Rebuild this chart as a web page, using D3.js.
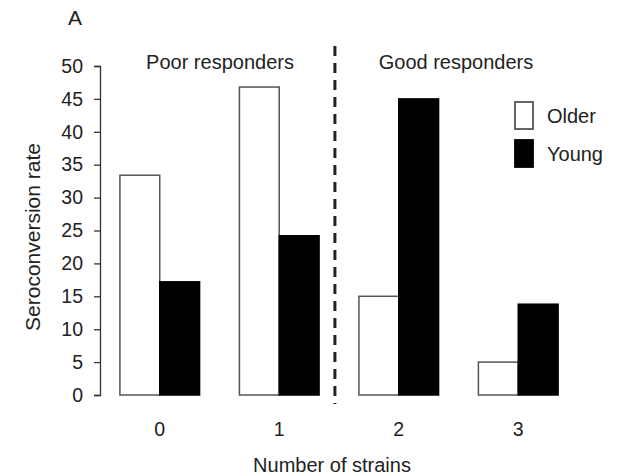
<!DOCTYPE html>
<html>
<head>
<meta charset="utf-8">
<script src="https://cdn.jsdelivr.net/npm/d3@7"></script>
<style>
  body { margin: 0; background: #fff; }
  svg text { font-family: "Liberation Sans", Arial, Helvetica, sans-serif; fill: #222; }
</style>
</head>
<body>
<svg></svg>
<script>
const strains = ['0', '1', '2', '3'];
const groups = ['Older', 'Young'];
const older = [33.4, 46.8, 15.0, 5.0];
const young = [17.2, 24.2, 45.0, 13.8];
const yTicks = [0, 5, 10, 15, 20, 25, 30, 35, 40, 45, 50];

const width = 623, height = 476;
const svg = d3.select('svg')
    .attr('width', width)
    .attr('height', height);

const data = strains.map((s, i) => ({ strain: s, Older: older[i], Young: young[i] }));

const yScale = d3.scaleLinear()
    .domain([0, 50])
    .range([395, 66]);

const xScale = d3.scaleBand()
    .domain(strains)
    .range([100, 578])
    .paddingInner(1 / 3)
    .paddingOuter(1 / 6);

const xSub = d3.scaleBand()
    .domain(groups)
    .range([0, xScale.bandwidth()]);

const fill = { Older: '#fff', Young: '#000' };
const stroke = { Older: '#555', Young: '#000' };

// bars
const groupG = svg.selectAll('.grp')
    .data(data)
    .enter().append('g')
    .attr('class', 'grp')
    .attr('transform', d => `translate(${xScale(d.strain)},0)`);

groupG.selectAll('rect')
    .data(d => groups.map(k => ({ key: k, value: d[k] })))
    .enter().append('rect')
    .attr('x', d => xSub(d.key))
    .attr('y', d => yScale(d.value))
    .attr('width', xSub.bandwidth())
    .attr('height', d => yScale(0) - yScale(d.value))
    .attr('fill', d => fill[d.key])
    .attr('stroke', d => stroke[d.key])
    .attr('stroke-width', 1.5);

// y axis
const yAxis = d3.axisLeft(yScale)
    .tickValues(yTicks)
    .tickSize(6)
    .tickPadding(11);
const yAxisG = svg.append('g')
    .attr('transform', 'translate(100,0)')
    .call(yAxis);
yAxisG.select('.domain').attr('stroke', '#333').attr('stroke-width', 1.3);
yAxisG.selectAll('.tick line').attr('stroke', '#333').attr('stroke-width', 1.3);
yAxisG.selectAll('.tick text')
    .style('font-size', '19.5px')
    .style('font-family', '"Liberation Sans", Arial, sans-serif')
    .attr('fill', '#222');

// x axis (labels only)
const xAxis = d3.axisBottom(xScale)
    .tickSize(0)
    .tickPadding(27);
const xAxisG = svg.append('g')
    .attr('transform', 'translate(0,395)')
    .call(xAxis);
xAxisG.select('.domain').remove();
xAxisG.selectAll('.tick text')
    .style('font-size', '19.5px')
    .style('font-family', '"Liberation Sans", Arial, sans-serif')
    .attr('fill', '#222');

// axis titles
svg.append('text')
    .attr('x', 332)
    .attr('y', 472)
    .attr('text-anchor', 'middle')
    .style('font-size', '20px')
    .text('Number of strains');

svg.append('text')
    .attr('transform', 'translate(40,237) rotate(-90)')
    .attr('text-anchor', 'middle')
    .style('font-size', '21px')
    .text('Seroconversion rate');

// panel letter
svg.append('text')
    .attr('x', 68)
    .attr('y', 25)
    .style('font-size', '21px')
    .text('A');

// divider between poor and good responders
const divX = xScale('2') - 24;
svg.append('line')
    .attr('x1', divX).attr('x2', divX)
    .attr('y1', 46).attr('y2', 404)
    .attr('stroke', '#222')
    .attr('stroke-width', 3)
    .attr('stroke-dasharray', '10,7');

svg.append('text')
    .attr('x', 220)
    .attr('y', 69)
    .attr('text-anchor', 'middle')
    .style('font-size', '20px')
    .text('Poor responders');

svg.append('text')
    .attr('x', 456)
    .attr('y', 69)
    .attr('text-anchor', 'middle')
    .style('font-size', '20px')
    .text('Good responders');

// legend
const legend = svg.append('g').attr('transform', 'translate(515,102)');
groups.forEach((k, i) => {
    legend.append('rect')
        .attr('x', 0)
        .attr('y', i * 38)
        .attr('width', 18)
        .attr('height', 27)
        .attr('fill', fill[k])
        .attr('stroke', stroke[k])
        .attr('stroke-width', 1.8);
    legend.append('text')
        .attr('x', 32)
        .attr('y', i * 38 + 21)
        .style('font-size', '20px')
        .text(k);
});
</script>
</body>
</html>
